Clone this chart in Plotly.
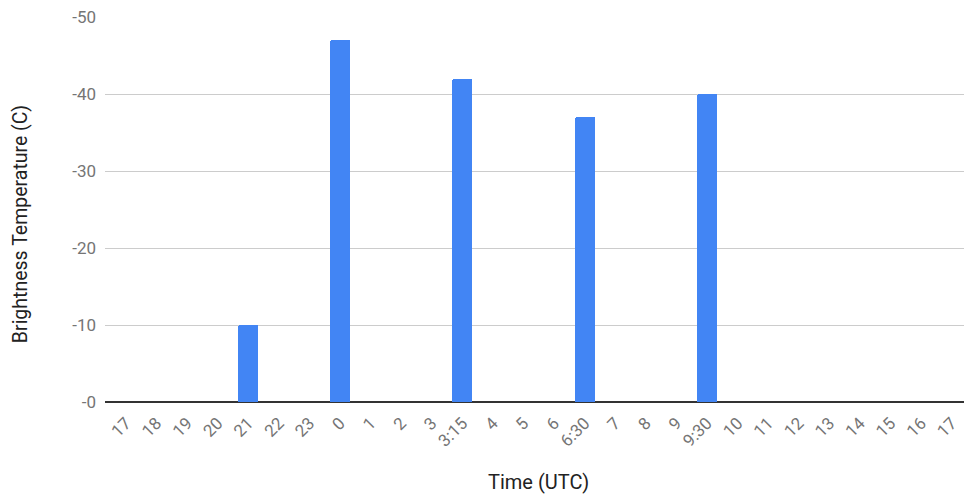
import plotly.graph_objects as go

# Hour labels along the time axis (UTC); some slots are quarter/half-hour scans
time_labels = ["17", "18", "19", "20", "21", "22", "23", "0", "1", "2", "3", "3:15",
               "4", "5", "6", "6:30", "7", "8", "9", "9:30", "10", "11", "12", "13",
               "14", "15", "16", "17"]
# Brightness temperature (C) for each slot; None where no observation
brightness_temp = [None, None, None, None, -10, None, None, -47, None, None, None, -42,
                   None, None, None, -37, None, None, None, -40, None, None, None, None,
                   None, None, None, None]

y_tick_vals = [0, -10, -20, -30, -40, -50]
y_tick_text = ["-0", "-10", "-20", "-30", "-40", "-50"]

x_title = "Time (UTC)"
y_title = "Brightness Temperature (C)"

positions = list(range(len(time_labels)))

fig = go.Figure(
    go.Bar(
        x=positions,
        y=brightness_temp,
        marker=dict(color="#4285F4", cornerradius=2, line=dict(width=0)),
        width=0.654,
        hoverinfo="skip",
    )
)

fig.update_layout(
    width=964,
    height=498,
    margin=dict(l=105, r=0, t=17, b=96, pad=0),
    paper_bgcolor="white",
    plot_bgcolor="white",
    font=dict(family="Roboto, Arial, sans-serif", color="#757575", size=17),
    showlegend=False,
    bargap=0,
)

fig.update_xaxes(
    tickmode="array",
    tickvals=positions,
    ticktext=time_labels,
    tickangle=-45,
    range=[-0.686, 27.40],
    showgrid=False,
    zeroline=False,
    showline=False,
    ticks="",
    ticklabelstandoff=7,
    tickfont=dict(size=17, color="#757575"),
    fixedrange=True,
)

fig.update_yaxes(
    tickmode="array",
    tickvals=y_tick_vals,
    ticktext=y_tick_text,
    range=[0, -50],
    showgrid=True,
    gridcolor="#cccccc",
    gridwidth=1,
    zeroline=True,
    zerolinecolor="#333333",
    zerolinewidth=1.5,
    ticks="",
    ticklabelstandoff=8,
    tickfont=dict(size=17, color="#757575"),
    fixedrange=True,
)

# Axis titles placed as annotations for finer positioning
fig.add_annotation(
    text=x_title, xref="paper", yref="paper", x=0.505, y=-0.208,
    xanchor="center", yanchor="middle", showarrow=False,
    font=dict(size=20, color="#222222"),
)
fig.add_annotation(
    text=y_title, xref="paper", yref="paper", x=0, y=0.462, xshift=-85,
    xanchor="center", yanchor="middle", textangle=-90, showarrow=False,
    font=dict(size=19.5, color="#222222"),
)

fig.write_html("out.html", config={"displayModeBar": False})
